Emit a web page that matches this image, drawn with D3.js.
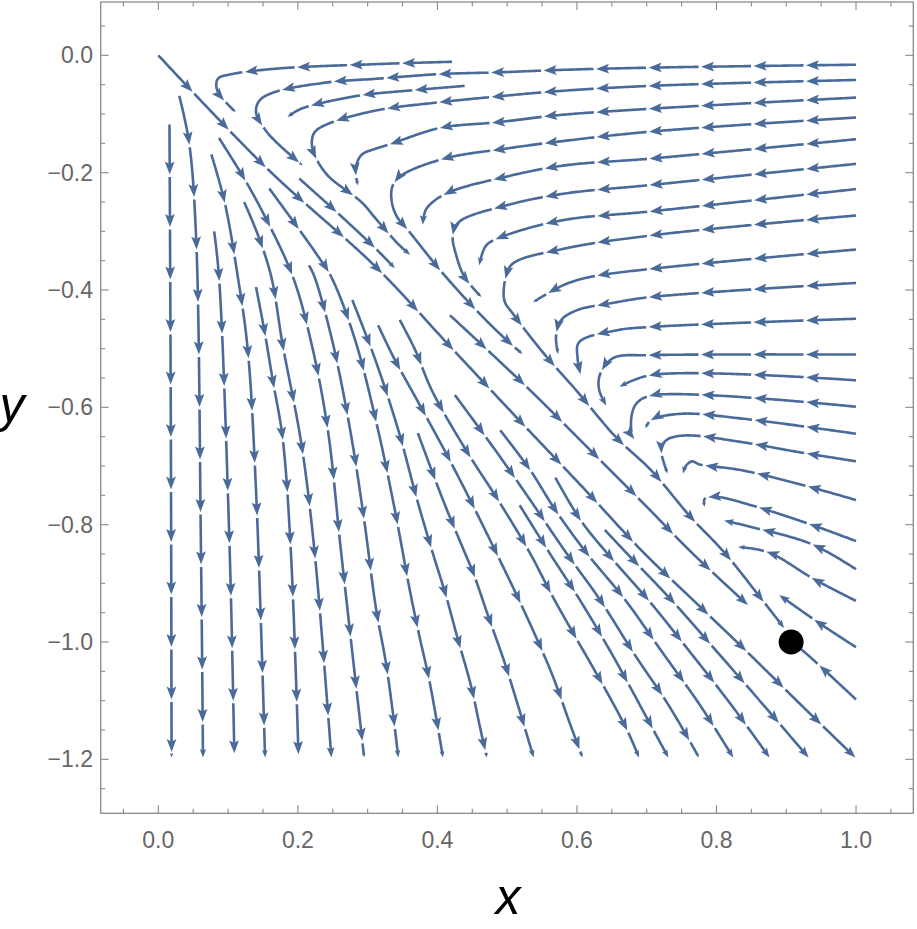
<!DOCTYPE html>
<html><head><meta charset="utf-8">
<script src="https://cdn.jsdelivr.net/npm/d3@7"></script>
<style>body{margin:0;background:#fff}svg{display:block}</style>
</head><body><svg id="c" width="917" height="929"></svg>
<script>
// ---- data (data units) ----
const xTicks = [0, 0.2, 0.4, 0.6, 0.8, 1.0];
const yTicks = [0, -0.2, -0.4, -0.6, -0.8, -1.0, -1.2];
const fixedPoint = [0.907, -1.0];

// streamlines, listed upstream -> downstream
const leftwardLines = [
  [[1,-0.016],[0.706,-0.021],[0.573,-0.025],[0.487,-0.029],[0.403,-0.032],[0.312,-0.040],[0.243,-0.046],[0.166,-0.063],[0.145,-0.077],[0.140,-0.097],[0.152,-0.125],[0.169,-0.148],[0.207,-0.188]],
  [[0.421,-0.011],[0.312,-0.015],[0.166,-0.023],[0.101,-0.033],[0.086,-0.039],[0.083,-0.051],[0.087,-0.066],[0.111,-0.097]],
  [[0.439,-0.052],[0.360,-0.060],[0.312,-0.065],[0.276,-0.071],[0.205,-0.091],[0.185,-0.105]],
  [[1,-0.042],[0.706,-0.052],[0.573,-0.061],[0.487,-0.070],[0.403,-0.080],[0.312,-0.094],[0.243,-0.117],[0.224,-0.131],[0.220,-0.148],[0.224,-0.170],[0.243,-0.205],[0.291,-0.250],[0.312,-0.279],[0.344,-0.322],[0.361,-0.340]],
  [[1,-0.072],[0.706,-0.091],[0.573,-0.102],[0.487,-0.114],[0.403,-0.124],[0.331,-0.152],[0.312,-0.159],[0.291,-0.170],[0.283,-0.193],[0.286,-0.222]],
  [[1,-0.106],[0.706,-0.130],[0.574,-0.147],[0.498,-0.159],[0.410,-0.176],[0.348,-0.205],[0.336,-0.222],[0.334,-0.244],[0.341,-0.273],[0.360,-0.301],[0.408,-0.372],[0.470,-0.452],[0.510,-0.497],[0.522,-0.509]],
  [[1,-0.143],[0.706,-0.176],[0.580,-0.188],[0.498,-0.207],[0.412,-0.236],[0.384,-0.262],[0.379,-0.289]],
  [[1,-0.185],[0.706,-0.221],[0.580,-0.236],[0.498,-0.256],[0.431,-0.284],[0.422,-0.307],[0.427,-0.341],[0.439,-0.378],[0.463,-0.412]],
  [[1,-0.228],[0.706,-0.266],[0.580,-0.281],[0.498,-0.307],[0.470,-0.324],[0.460,-0.358]],
  [[1,-0.273],[0.706,-0.307],[0.580,-0.330],[0.508,-0.355],[0.498,-0.378],[0.496,-0.418],[0.508,-0.440],[0.553,-0.509],[0.599,-0.571],[0.656,-0.651],[0.706,-0.707],[0.763,-0.787],[0.811,-0.847],[0.864,-0.926],[0.897,-0.976]],
  [[1,-0.331],[0.706,-0.364],[0.618,-0.378],[0.580,-0.392],[0.537,-0.421]],
  [[1,-0.388],[0.706,-0.412],[0.656,-0.421],[0.599,-0.435],[0.577,-0.452],[0.570,-0.480],[0.573,-0.509]],
  [[1,-0.449],[0.706,-0.463],[0.656,-0.469],[0.603,-0.489],[0.601,-0.517],[0.606,-0.548]],
  [[1,-0.510],[0.706,-0.511],[0.656,-0.514],[0.642,-0.526],[0.632,-0.548],[0.632,-0.571],[0.642,-0.597]],
  [[1,-0.554],[0.706,-0.545],[0.661,-0.565]],
  [[1,-0.599],[0.706,-0.580],[0.685,-0.594],[0.678,-0.617],[0.680,-0.651],[0.685,-0.656]],
  [[1,-0.645],[0.835,-0.619],[0.749,-0.611],[0.706,-0.622],[0.698,-0.636]],
  [[1,-0.692],[0.916,-0.676],[0.835,-0.659],[0.754,-0.648],[0.728,-0.656],[0.721,-0.673],[0.725,-0.696],[0.730,-0.713]],
  [[1,-0.758],[0.916,-0.730],[0.835,-0.707],[0.775,-0.697],[0.765,-0.692],[0.756,-0.700],[0.752,-0.713]],
  [[1,-0.828],[0.931,-0.798],[0.850,-0.767],[0.802,-0.753],[0.783,-0.756],[0.783,-0.770]],
  [[1,-0.876],[0.936,-0.833],[0.850,-0.804],[0.811,-0.793]],
  [[1,-0.930],[0.940,-0.893],[0.874,-0.847],[0.831,-0.838]],
  [[1,-1.009],[0.945,-0.966],[0.890,-0.920]],
  [[1,-1.098],[0.926,-1.017],[0.913,-1.005]]
];
const downwardLines = [
  [[0,0],[0.155,-0.192],[0.312,-0.361],[0.418,-0.496],[0.518,-0.623],[0.612,-0.741],[0.695,-0.847],[0.766,-0.928],[0.844,-1.017],[0.921,-1.107],[0.999,-1.197]],
  [[0.202,-0.210],[0.260,-0.272],[0.312,-0.330],[0.339,-0.363]],
  [[0.418,-0.443],[0.475,-0.506],[0.533,-0.571],[0.583,-0.630],[0.640,-0.698],[0.698,-0.767],[0.764,-0.847],[0.845,-0.937]],
  [[0.640,-0.809],[0.670,-0.847],[0.735,-0.928],[0.801,-1.017],[0.867,-1.107],[0.932,-1.197]],
  [[0.569,-0.720],[0.605,-0.792],[0.642,-0.847],[0.702,-0.928],[0.762,-1.017],[0.821,-1.107],[0.876,-1.197]],
  [[0.490,-0.639],[0.533,-0.707],[0.569,-0.775],[0.613,-0.847],[0.669,-0.928],[0.722,-1.017],[0.776,-1.107],[0.824,-1.197]],
  [[0.425,-0.579],[0.483,-0.673],[0.533,-0.758],[0.584,-0.847],[0.633,-0.928],[0.683,-1.022],[0.731,-1.107],[0.775,-1.197]],
  [[0.518,-0.767],[0.560,-0.847],[0.604,-0.928],[0.647,-1.014],[0.690,-1.107],[0.731,-1.197]],
  [[0.346,-0.451],[0.368,-0.502],[0.392,-0.571],[0.441,-0.673],[0.487,-0.758],[0.532,-0.847],[0.564,-0.920],[0.602,-1.000],[0.639,-1.077],[0.673,-1.153],[0.689,-1.197]],
  [[0.315,-0.460],[0.339,-0.519],[0.371,-0.588],[0.410,-0.673],[0.447,-0.758],[0.484,-0.847],[0.510,-0.911],[0.537,-0.980],[0.565,-1.057],[0.589,-1.136],[0.608,-1.197]],
  [[0.372,-0.644],[0.408,-0.758],[0.439,-0.847],[0.451,-0.881],[0.474,-0.960],[0.496,-1.034],[0.517,-1.114],[0.538,-1.197]],
  [[0.278,-0.417],[0.311,-0.519],[0.344,-0.639],[0.371,-0.758],[0.393,-0.847],[0.412,-0.920],[0.429,-0.994],[0.448,-1.074],[0.463,-1.156],[0.471,-1.197]],
  [[0.159,-0.227],[0.194,-0.284],[0.228,-0.341],[0.248,-0.378],[0.282,-0.485],[0.315,-0.639],[0.339,-0.775],[0.360,-0.909],[0.374,-0.989],[0.388,-1.063],[0.401,-1.148],[0.408,-1.197]],
  [[0.216,-0.358],[0.224,-0.378],[0.249,-0.485],[0.275,-0.639],[0.295,-0.792],[0.312,-0.943],[0.326,-1.034],[0.336,-1.119],[0.344,-1.197]],
  [[0.087,-0.141],[0.123,-0.210],[0.152,-0.273],[0.193,-0.378],[0.220,-0.494],[0.243,-0.639],[0.262,-0.847],[0.295,-1.197]],
  [[0.123,-0.250],[0.143,-0.307],[0.162,-0.378],[0.178,-0.492],[0.205,-0.662],[0.224,-0.847],[0.248,-1.197]],
  [[0.140,-0.395],[0.152,-0.469],[0.164,-0.554],[0.178,-0.651],[0.190,-0.847],[0.201,-1.197]],
  [[0.076,-0.169],[0.095,-0.250],[0.114,-0.378],[0.128,-0.500],[0.140,-0.741],[0.153,-1.197]],
  [[0.080,-0.300],[0.087,-0.378],[0.102,-0.833],[0.109,-1.197]],
  [[0.030,-0.069],[0.044,-0.148],[0.054,-0.306],[0.061,-0.833],[0.064,-1.197]],
  [[0.016,-0.118],[0.018,-0.656],[0.019,-1.197]]
];

// ---- layout ----
const svg = d3.select("#c");
const x = d3.scaleLinear().domain([-0.0826, 1.0821]).range([100.7, 913.3]);
const y = d3.scaleLinear().domain([0.0909, -1.2920]).range([2, 813.3]);
const X0 = 100.7, X1 = 913.3, Y0 = 2, Y1 = 813.3;
const frameCol = "#8a8a8a", labCol = "#666";
const lineCol = "#4a6a9a";

// frame
svg.append("rect").attr("x", X0).attr("y", Y0).attr("width", X1 - X0).attr("height", Y1 - Y0)
  .attr("fill", "none").attr("stroke", frameCol).attr("stroke-width", 1.3);

// ticks (major + minor), all four sides, pointing inward
const xMinor = d3.range(-1, 22).map(i => i * 0.05).filter(v => v > -0.08 && v < 1.08);
const yMinor = d3.range(-26, 2).map(i => i * 0.05).filter(v => v < 0.09 && v > -1.29);
const isMaj = (v, arr) => arr.some(t => Math.abs(t - v) < 1e-6);
const tk = svg.append("g").attr("stroke", frameCol).attr("stroke-width", 1.1);
xMinor.forEach(v => {
  const L = isMaj(v, xTicks) ? 8 : 4.5, px = x(v);
  tk.append("line").attr("x1", px).attr("x2", px).attr("y1", Y1).attr("y2", Y1 - L);
  tk.append("line").attr("x1", px).attr("x2", px).attr("y1", Y0).attr("y2", Y0 + L);
});
yMinor.forEach(v => {
  const L = isMaj(v, yTicks) ? 8 : 4.5, py = y(v);
  tk.append("line").attr("y1", py).attr("y2", py).attr("x1", X0).attr("x2", X0 + L);
  tk.append("line").attr("y1", py).attr("y2", py).attr("x1", X1).attr("x2", X1 - L);
});
const fmt = v => (v < 0 ? "\u2212" : "") + Math.abs(v).toFixed(1);
svg.append("g").selectAll("text").data(xTicks).join("text")
  .attr("x", d => x(d)).attr("y", 848).attr("text-anchor", "middle")
  .attr("font-family", "Liberation Sans, Arial, sans-serif").attr("font-size", 23).attr("fill", labCol)
  .text(fmt);
svg.append("g").selectAll("text").data(yTicks).join("text")
  .attr("x", 93).attr("y", d => y(d) + 8).attr("text-anchor", "end")
  .attr("font-family", "Liberation Sans, Arial, sans-serif").attr("font-size", 23).attr("fill", labCol)
  .text(fmt);
svg.append("text").attr("x", 508).attr("y", 914).attr("text-anchor", "middle")
  .attr("font-family", "Liberation Sans, Arial, sans-serif").attr("font-style", "italic")
  .attr("font-size", 50).attr("fill", "#000").text("x");
svg.append("text").attr("x", 12).attr("y", 422).attr("text-anchor", "middle")
  .attr("font-family", "Liberation Sans, Arial, sans-serif").attr("font-style", "italic")
  .attr("font-size", 50).attr("fill", "#000").text("y");

// streamlines: segmented with arrowheads
const curve = d3.line().x(d => x(d[0])).y(d => y(d[1])).curve(d3.curveCatmullRom.alpha(0.5));
const tmp = svg.append("path").attr("fill", "none").attr("stroke", "none");
const gL = svg.append("g");
const S = 50, GAP = 2.5, AL = 13, AW = 4.9;
function drawStream(pts) {
  tmp.attr("d", curve(pts));
  const node = tmp.node(), L = node.getTotalLength();
  let s0 = 0;
  while (s0 < L - 2) {
    const s1 = Math.min(s0 + S, L);
    const k = Math.min(1, (s1 - s0) / S);
    const al = AL * Math.max(k, 0.35), aw = AW * Math.max(k, 0.35);
    const lineEnd = Math.max(s0, s1 - al * 0.6);
    const seg = [];
    for (let s = s0; s < lineEnd; s += 2) { const p = node.getPointAtLength(s); seg.push([p.x, p.y]); }
    const pe = node.getPointAtLength(lineEnd); seg.push([pe.x, pe.y]);
    gL.append("path").attr("d", d3.line()(seg)).attr("fill", "none")
      .attr("stroke", lineCol).attr("stroke-width", 2.6).attr("stroke-linecap", "butt");
    const tip = node.getPointAtLength(s1), bk = node.getPointAtLength(Math.max(0, s1 - 3));
    const a = Math.atan2(tip.y - bk.y, tip.x - bk.x), c = Math.cos(a), sn = Math.sin(a);
    const P = (u, v) => [tip.x + u * c - v * sn, tip.y + u * sn + v * c];
    gL.append("path").attr("d", d3.line()([P(0, 0), P(-al, -aw), P(-al * 0.8, 0), P(-al, aw)]) + "Z")
      .attr("fill", lineCol);
    s0 = s1 + GAP;
  }
}
leftwardLines.forEach(drawStream);
downwardLines.forEach(drawStream);

// fixed point
svg.append("circle").attr("cx", x(fixedPoint[0])).attr("cy", y(fixedPoint[1])).attr("r", 12.5).attr("fill", "#000");
</script></body></html>
